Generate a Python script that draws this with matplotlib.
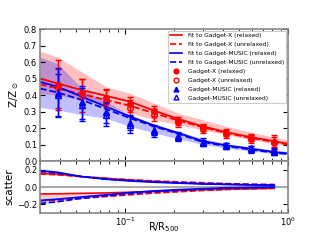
import matplotlib
matplotlib.use('Agg')
import matplotlib.pyplot as plt
from matplotlib.lines import Line2D

# radial bins (R/R500)
r_bins = [0.0386, 0.0542, 0.0764, 0.107, 0.151, 0.212, 0.300, 0.418, 0.590, 0.824]

# profiles with error bars
gx_rel = [0.46, 0.41, 0.384, 0.345, 0.303, 0.244, 0.204, 0.172, 0.141, 0.117]
gx_rel_err = [0.15, 0.09, 0.055, 0.045, 0.03, 0.025, 0.02, 0.02, 0.02, 0.03]
gx_unrel = [0.44, 0.395, 0.36, 0.32, 0.28, 0.235, 0.195, 0.165, 0.135, 0.11]
gx_unrel_err = [0.12, 0.10, 0.07, 0.05, 0.035, 0.03, 0.025, 0.025, 0.025, 0.045]
gm_rel = [0.414, 0.356, 0.295, 0.232, 0.188, 0.153, 0.117, 0.097, 0.077, 0.062]
gm_rel_err = [0.15, 0.10, 0.065, 0.045, 0.03, 0.025, 0.02, 0.015, 0.015, 0.015]
gm_unrel = [0.40, 0.34, 0.28, 0.22, 0.18, 0.145, 0.11, 0.09, 0.07, 0.055]
gm_unrel_err = [0.13, 0.10, 0.07, 0.05, 0.035, 0.025, 0.02, 0.02, 0.02, 0.02]

# fitted curves
r_fit = [0.03, 0.0386, 0.0542, 0.0764, 0.107, 0.151, 0.212, 0.300, 0.418, 0.590, 0.824, 1.0]
fit_gx_rel = [0.50, 0.47, 0.43, 0.395, 0.36, 0.305, 0.255, 0.21, 0.175, 0.145, 0.12, 0.105]
fit_gx_unrel = [0.465, 0.44, 0.405, 0.37, 0.335, 0.29, 0.245, 0.205, 0.17, 0.14, 0.115, 0.10]
fit_gm_rel = [0.48, 0.45, 0.39, 0.33, 0.27, 0.215, 0.17, 0.12, 0.095, 0.075, 0.055, 0.046]
fit_gm_unrel = [0.44, 0.415, 0.37, 0.315, 0.26, 0.21, 0.165, 0.115, 0.09, 0.07, 0.05, 0.042]

# shaded scatter bands
gx_band_lo = [0.41, 0.40, 0.37, 0.34, 0.29, 0.25, 0.22, 0.19, 0.16, 0.13, 0.105, 0.09]
gx_band_hi = [0.667, 0.63, 0.54, 0.45, 0.41, 0.35, 0.29, 0.25, 0.21, 0.175, 0.145, 0.128]
gm_band_lo = [0.325, 0.31, 0.28, 0.26, 0.21, 0.17, 0.135, 0.10, 0.078, 0.06, 0.045, 0.038]
gm_band_hi = [0.63, 0.59, 0.44, 0.36, 0.28, 0.225, 0.18, 0.135, 0.105, 0.085, 0.065, 0.058]

# scatter panel
r_sc = [0.03, 0.0386, 0.0542, 0.0764, 0.107, 0.151, 0.212, 0.300, 0.418, 0.590, 0.824]
sc_gx_rel_hi = [0.16, 0.15, 0.12, 0.10, 0.08, 0.065, 0.05, 0.04, 0.03, 0.025, 0.02]
sc_gx_unrel_hi = [0.15, 0.14, 0.12, 0.10, 0.085, 0.07, 0.06, 0.05, 0.04, 0.03, 0.03]
sc_gm_rel_hi = [0.19, 0.17, 0.12, 0.09, 0.07, 0.055, 0.045, 0.035, 0.03, 0.025, 0.02]
sc_gm_unrel_hi = [0.18, 0.16, 0.12, 0.09, 0.075, 0.06, 0.05, 0.04, 0.035, 0.03, 0.025]
sc_gx_rel_lo = [-0.08, -0.078, -0.073, -0.068, -0.06, -0.05, -0.04, -0.03, -0.025, -0.02, -0.015]
sc_gx_unrel_lo = [-0.16, -0.15, -0.13, -0.11, -0.09, -0.07, -0.055, -0.04, -0.03, -0.02, -0.015]
sc_gm_rel_lo = [-0.155, -0.14, -0.115, -0.09, -0.065, -0.045, -0.03, -0.02, -0.01, -0.005, 0.0]
sc_gm_unrel_lo = [-0.19, -0.17, -0.13, -0.10, -0.075, -0.055, -0.04, -0.025, -0.015, -0.01, -0.005]

fig = plt.figure(figsize=(3.2, 2.4), dpi=100)
ax = fig.add_axes([0.125, 0.329, 0.775, 0.55])
ax2 = fig.add_axes([0.125, 0.1125, 0.775, 0.2165], sharex=ax)

ax.fill_between(r_fit, gx_band_lo, gx_band_hi, color='red', alpha=0.25, lw=0)
ax.fill_between(r_fit, gm_band_lo, gm_band_hi, color='blue', alpha=0.25, lw=0)

ax.plot(r_fit, fit_gx_rel, color='red', lw=1.3)
ax.plot(r_fit, fit_gx_unrel, color='red', lw=1.3, ls='--')
ax.plot(r_fit, fit_gm_rel, color='blue', lw=1.3)
ax.plot(r_fit, fit_gm_unrel, color='blue', lw=1.3, ls='--')

ax.errorbar(r_bins, gx_rel, yerr=gx_rel_err, fmt='o', color='red', ms=4, capsize=2.5, elinewidth=1)
ax.errorbar(r_bins, gx_unrel, yerr=gx_unrel_err, fmt='o', color='red', mfc='none', ms=4, capsize=2.5, elinewidth=1)
ax.errorbar(r_bins, gm_rel, yerr=gm_rel_err, fmt='^', color='blue', ms=4, capsize=2.5, elinewidth=1)
ax.errorbar(r_bins, gm_unrel, yerr=gm_unrel_err, fmt='^', color='blue', mfc='none', ms=4, capsize=2.5, elinewidth=1)

ax.set_xscale('log')
ax.set_xlim(0.03, 1.0)
ax.set_ylim(0, 0.8)
ax.set_yticks([0, 0.1, 0.2, 0.3, 0.4, 0.5, 0.6, 0.7, 0.8])
ax.set_ylabel(r'Z/Z$_\odot$', fontsize=7.5, labelpad=2)
ax.tick_params(labelbottom=False)

handles = [
    Line2D([], [], color='red', lw=1.2),
    Line2D([], [], color='red', lw=1.2, ls='--'),
    Line2D([], [], color='blue', lw=1.2),
    Line2D([], [], color='blue', lw=1.2, ls='--'),
    Line2D([], [], color='red', marker='o', ls='none', ms=3.5),
    Line2D([], [], color='red', marker='o', mfc='none', ls='none', ms=3.5),
    Line2D([], [], color='blue', marker='^', ls='none', ms=3.5),
    Line2D([], [], color='blue', marker='^', mfc='none', ls='none', ms=3.5),
]
labels = ['fit to Gadget-X (relaxed)', 'fit to Gadget-X (unrelaxed)',
          'fit to Gadget-MUSIC (relaxed)', 'fit to Gadget-MUSIC (unrelaxed)',
          'Gadget-X (relaxed)', 'Gadget-X (unrelaxed)',
          'Gadget-MUSIC (relaxed)', 'Gadget-MUSIC (unrelaxed)']
leg = ax.legend(handles, labels, loc='upper right', fontsize=4.3, handlelength=2.0,
                labelspacing=0.62, borderpad=0.4, handletextpad=0.9, framealpha=1,
                borderaxespad=0.3)
leg.get_frame().set_edgecolor('#cccccc')
leg.get_frame().set_linewidth(0.8)

ax2.axhline(0, color='#aaaaaa', lw=1.5)
ax2.plot(r_sc, sc_gx_rel_hi, color='red', lw=1.2)
ax2.plot(r_sc, sc_gx_unrel_hi, color='red', lw=1.2, ls='--')
ax2.plot(r_sc, sc_gm_rel_hi, color='blue', lw=1.2)
ax2.plot(r_sc, sc_gm_unrel_hi, color='blue', lw=1.2, ls='--')
ax2.plot(r_sc, sc_gx_rel_lo, color='red', lw=1.2)
ax2.plot(r_sc, sc_gx_unrel_lo, color='red', lw=1.2, ls='--')
ax2.plot(r_sc, sc_gm_rel_lo, color='blue', lw=1.2)
ax2.plot(r_sc, sc_gm_unrel_lo, color='blue', lw=1.2, ls='--')
ax2.fill_between(r_sc, sc_gx_unrel_hi, sc_gx_rel_hi, color='red', alpha=0.2, lw=0)
ax2.fill_between(r_sc, sc_gm_unrel_hi, sc_gm_rel_hi, color='blue', alpha=0.2, lw=0)
ax2.fill_between(r_sc, sc_gx_unrel_lo, sc_gx_rel_lo, color='red', alpha=0.2, lw=0)
ax2.fill_between(r_sc, sc_gm_unrel_lo, sc_gm_rel_lo, color='blue', alpha=0.2, lw=0)
ax2.set_ylim(-0.3, 0.3)
ax2.set_yticks([-0.2, 0.0, 0.2])
ax2.set_ylabel('scatter', fontsize=7.5, labelpad=2)
ax2.set_xlabel(r'R/R$_{500}$', fontsize=7, va='center')
ax2.xaxis.set_label_coords(0.5, -0.28)

for a in (ax, ax2):
    a.tick_params(which='both', direction='in', top=True, right=True, labelsize=6, pad=2)
    for s in a.spines.values():
        s.set_color('#888888')
        s.set_linewidth(1.2)

fig.savefig('out.png', dpi=100)
